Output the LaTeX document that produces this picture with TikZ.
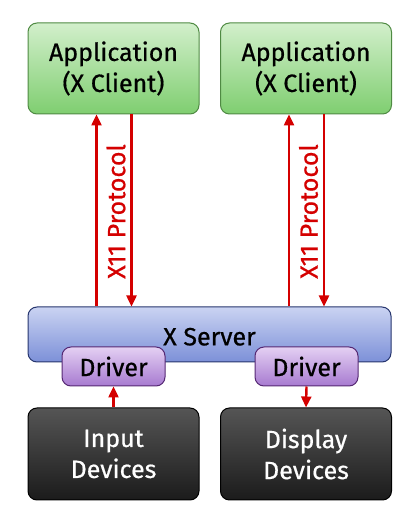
\documentclass[tikz,border=0pt]{standalone}
\usepackage{fontspec}
\setmainfont{Fira Sans}[FakeBold=0.6]
\usetikzlibrary{arrows.meta}
\definecolor{appTop}{HTML}{D2EFCB}
\definecolor{appBot}{HTML}{7FCE70}
\definecolor{appLine}{HTML}{4F8A43}
\definecolor{srvTop}{HTML}{CAD3F2}
\definecolor{srvBot}{HTML}{7C90D8}
\definecolor{srvLine}{HTML}{27366E}
\definecolor{drvTop}{HTML}{E4D0F3}
\definecolor{drvBot}{HTML}{A77AD0}
\definecolor{drvLine}{HTML}{552873}
\definecolor{devTop}{HTML}{555555}
\definecolor{devBot}{HTML}{1B1B1B}
\definecolor{xred}{HTML}{D40000}

\begin{document}
\begin{tikzpicture}[x=1pt,y=1pt,
    box/.style={rounded corners=9pt,line width=1pt,align=center,font=\fontsize{25}{31}\selectfont},
    app/.style={box,draw=appLine,top color=appTop,bottom color=appBot,minimum width=171pt,minimum height=91pt},
    dev/.style={box,draw=black,top color=devTop,bottom color=devBot,text=white,minimum width=171pt,minimum height=92pt},
    proto/.style={xred,line width=2.4pt,-{Triangle[length=11pt,width=10pt]}}]
    \useasboundingbox(0,0)rectangle(414,523);
    % clients
    \node[app](app1)at(113.5,454.5){Application\\(X Client)};
    \node[app](app2)at(306,454.5){Application\\(X Client)};
    % server and drivers
    \node[box,draw=srvLine,top color=srvTop,bottom color=srvBot,minimum width=363pt,minimum height=55pt,text height=22pt](srv)at(209.5,188.5){X Server};
    \node[box,draw=drvLine,top color=drvTop,bottom color=drvBot,minimum width=103pt,minimum height=39pt](drv1)at(113.5,156.5){Driver};
    \node[box,draw=drvLine,top color=drvTop,bottom color=drvBot,minimum width=103pt,minimum height=39pt](drv2)at(306.5,156.5){Driver};
    % devices
    \node[dev](inp)at(113.5,69){Input\\Devices};
    \node[dev](disp)at(306,69){Display\\Devices};
    % protocol
    \draw[proto]([xshift=-17pt]app1.south|-srv.north)--([xshift=-17pt]app1.south);
    \draw[proto]([xshift=18pt]app1.south)--([xshift=18pt]app1.south|-srv.north);
    \draw[proto]([xshift=-17pt]app2.south|-srv.north)--([xshift=-17pt]app2.south);
    \draw[proto]([xshift=18pt]app2.south)--([xshift=18pt]app2.south|-srv.north);
    \node[rotate=90,text=xred,font=\fontsize{25}{30}\selectfont](lbl1)at(116,311.5){X11 Protocol};
    \node[rotate=90,text=xred,font=\fontsize{25}{30}\selectfont](lbl2)at(308.5,311.5){X11 Protocol};
    \draw[proto](inp.north)--(drv1.south);
    \draw[proto](drv2.south)--(disp.north);
\end{tikzpicture}
\end{document}
